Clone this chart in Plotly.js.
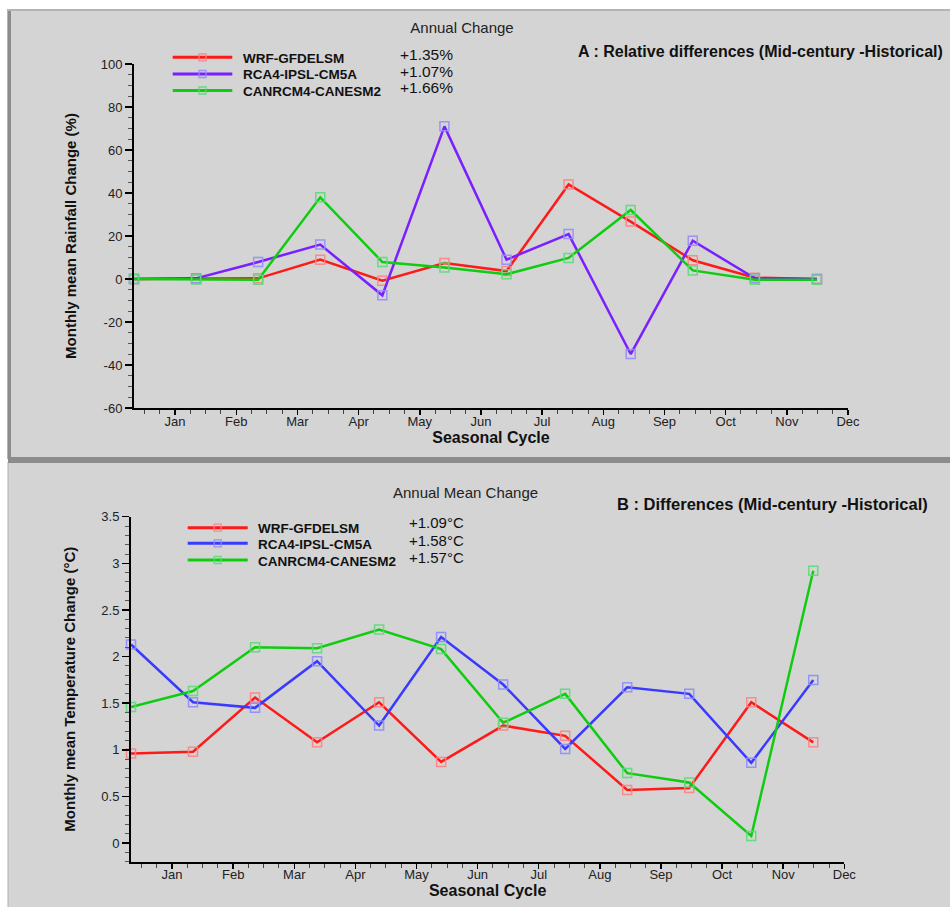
<!DOCTYPE html>
<html>
<head>
<meta charset="utf-8">
<script src="https://cdn.plot.ly/plotly-3.0.1.min.js"></script>
<style>html,body{margin:0;padding:0;background:#fff;}#chart{width:950px;height:907px;}</style>
</head>
<body>
<div id="chart"></div>
<script>
// ---------- DATA ----------
var months = ['Jan','Feb','Mar','Apr','May','Jun','Jul','Aug','Sep','Oct','Nov','Dec'];
var monthIndex = [0,1,2,3,4,5,6,7,8,9,10,11];
var modelNames = ['WRF-GFDELSM','RCA4-IPSL-CM5A','CANRCM4-CANESM2'];

// Panel A: relative rainfall change (%)
var rainWRF  = [0, 0, 0.3, 9.0, -0.8, 7.4, 3.7, 44.0, 26.7, 8.7, 0.6, 0];
var rainRCA4 = [0, 0.3, 7.9, 16.0, -7.6, 71.0, 9.0, 20.9, -34.9, 17.8, 0.3, 0];
var rainCAN  = [0, -0.2, -0.3, 38.0, 7.9, 5.4, 2.2, 9.8, 32.1, 4.0, -0.3, -0.3];
var rainAnnual = ['+1.35%','+1.07%','+1.66%'];
var rainTicks = [-60, -40, -20, 0, 20, 40, 60, 80, 100];

// Panel B: temperature change (°C)
var tempWRF  = [0.96, 0.98, 1.56, 1.08, 1.51, 0.87, 1.26, 1.15, 0.57, 0.59, 1.51, 1.08];
var tempRCA4 = [2.13, 1.51, 1.45, 1.95, 1.26, 2.21, 1.70, 1.01, 1.67, 1.60, 0.86, 1.75];
var tempCAN  = [1.46, 1.63, 2.10, 2.09, 2.29, 2.08, 1.29, 1.60, 0.75, 0.65, 0.075, 2.92];
var tempAnnual = ['+1.09°C','+1.58°C','+1.57°C'];
var tempTicks = [0, 0.5, 1, 1.5, 2, 2.5, 3, 3.5];

// ---------- STYLE ----------
var W = 950, H = 907;
function X(p){ return p / W; }
function Y(p){ return 1 - p / H; }
var FONT = 'Liberation Sans, Arial, sans-serif';
var rainLine = ['#ff1a1a', '#7a1fff', '#10cc10'];
var rainMark = ['rgba(255,130,130,0.9)', 'rgba(150,140,255,0.9)', 'rgba(90,220,120,0.9)'];
var tempLine = ['#ff1a1a', '#3a3aff', '#10cc10'];
var tempMark = ['rgba(255,130,130,0.9)', 'rgba(140,140,255,0.9)', 'rgba(90,220,120,0.9)'];

// month label positions on the index axis (labels are slightly tighter than data spacing)
var labelStep = 0.9853, firstLabel = 11.5 - 11 * labelStep;
var tickPos = months.map(function(m, i){ return firstLabel + i * labelStep; });

function mk(y, i, ax, lineC, markC, name){
  return {
    x: monthIndex, y: y, name: name, type: 'scatter', mode: 'lines+markers',
    xaxis: ax[0], yaxis: ax[1], cliponaxis: false, showlegend: false,
    line: {color: lineC[i], width: 2.5},
    marker: {symbol: 'square-open', size: 9, color: markC[i], line: {width: 1.5, color: markC[i]}}
  };
}
var traces = [
  mk(rainWRF, 0, ['x','y'], rainLine, rainMark, modelNames[0]),
  mk(rainRCA4, 1, ['x','y'], rainLine, rainMark, modelNames[1]),
  mk(rainCAN, 2, ['x','y'], rainLine, rainMark, modelNames[2]),
  mk(tempWRF, 0, ['x2','y2'], tempLine, tempMark, modelNames[0]),
  mk(tempRCA4, 1, ['x2','y2'], tempLine, tempMark, modelNames[1]),
  mk(tempCAN, 2, ['x2','y2'], tempLine, tempMark, modelNames[2])
];

function xAxis(domain, anchor){
  return {
    domain: domain, anchor: anchor, range: [0, 11.5],
    tickmode: 'array', tickvals: tickPos, ticktext: months,
    ticks: 'outside', ticklen: 5, tickwidth: 1.5, tickcolor: '#000',
    ticklabelstandoff: -5,
    minor: {tick0: firstLabel, dtick: labelStep / 4, ticks: 'outside', ticklen: 4, tickwidth: 1, tickcolor: '#444', showgrid: false},
    showline: true, linecolor: '#000', linewidth: 2, showgrid: false, zeroline: false,
    tickfont: {family: FONT, size: 13, color: '#222'},
    title: {text: 'Seasonal Cycle', standoff: 2, font: {family: FONT, size: 16, color: '#111', weight: 'bold'}}
  };
}
function yAxis(domain, anchor, range, ticks, minorD, title, standoff){
  return {
    domain: domain, anchor: anchor, range: range,
    tickmode: 'array', tickvals: ticks, ticktext: ticks.map(function(v){ return String(v); }),
    ticks: 'outside', ticklen: 7, tickwidth: 1.5, tickcolor: '#000',
    minor: {tickmode: 'linear', tick0: 0, dtick: minorD, ticks: 'outside', ticklen: 4, tickwidth: 1, tickcolor: '#555', showgrid: false},
    showline: true, linecolor: '#000', linewidth: 2, showgrid: false, zeroline: false,
    tickfont: {family: FONT, size: 13, color: '#222'},
    title: {text: title, standoff: standoff, font: {family: FONT, size: 15, color: '#111', weight: 'bold'}}
  };
}

var shapes = [
  // panel backgrounds
  {type:'rect', xref:'paper', yref:'paper', layer:'below', x0:X(8), x1:X(952), y0:Y(10), y1:Y(458), fillcolor:'#d4d4d4', line:{color:'#b4b4b4', width:2}},
  {type:'rect', xref:'paper', yref:'paper', layer:'below', x0:X(8), x1:X(952), y0:Y(462), y1:Y(909), fillcolor:'#d4d4d4', line:{color:'#b0b0b0', width:1}},
  {type:'rect', xref:'paper', yref:'paper', layer:'below', x0:X(8), x1:X(952), y0:Y(457), y1:Y(463), fillcolor:'#8c8c8c', line:{width:0}},
  {type:'rect', xref:'paper', yref:'paper', layer:'below', x0:X(8), x1:X(11), y0:Y(11), y1:Y(457), fillcolor:'#8c8c8c', line:{width:0}}
];
var annotations = [];

function legendBlock(rows, lineX0, lineX1, textX, valX, rowY, valY, lineC, markC, vals, valSize){
  for (var i = 0; i < 3; i++){
    shapes.push({type:'line', xref:'paper', yref:'paper', x0:X(lineX0), x1:X(lineX1), y0:Y(rowY[i]), y1:Y(rowY[i]), line:{color:lineC[i], width:3}});
    var cx = (lineX0 + lineX1) / 2;
    shapes.push({type:'rect', xref:'paper', yref:'paper', x0:X(cx-3.5), x1:X(cx+3.5), y0:Y(rowY[i]-3.5), y1:Y(rowY[i]+3.5), line:{color:markC[i], width:1.3}, fillcolor:'rgba(0,0,0,0)'});
    annotations.push({xref:'paper', yref:'paper', x:X(textX), y:Y(rowY[i]+1), xanchor:'left', yanchor:'middle', showarrow:false, text:rows[i], font:{family:FONT, size:13.5, color:'#111', weight:'bold'}});
    annotations.push({xref:'paper', yref:'paper', x:X(valX), y:Y(valY[i]), xanchor:'left', yanchor:'middle', showarrow:false, text:vals[i], font:{family:FONT, size:valSize, color:'#111'}});
  }
}
legendBlock(modelNames, 172.7, 232.3, 241, 398, [57.3, 74, 90.5], [54, 71, 88], rainLine, rainMark, rainAnnual, 15.5);
legendBlock(modelNames, 187.7, 247.7, 256, 407, [527.7, 543.3, 560], [522.5, 540, 557.5], tempLine, tempMark, tempAnnual, 15);

annotations.push({xref:'paper', yref:'paper', x:X(576), y:Y(51), xanchor:'left', yanchor:'middle', showarrow:false,
  text:'A : Relative differences (Mid-century -Historical)', font:{family:FONT, size:16, color:'#111', weight:'bold'}});
annotations.push({xref:'paper', yref:'paper', x:X(465), y:Y(493), xanchor:'center', yanchor:'middle', showarrow:false,
  text:'Annual Mean Change', font:{family:FONT, size:15, color:'#222'}});
annotations.push({xref:'paper', yref:'paper', x:X(615), y:Y(504), xanchor:'left', yanchor:'middle', showarrow:false,
  text:'B : Differences (Mid-century -Historical)', font:{family:FONT, size:16.5, color:'#111', weight:'bold'}});

var layout = {
  width: W, height: H, margin: {l:0, r:0, t:0, b:0},
  paper_bgcolor: '#ffffff', plot_bgcolor: 'rgba(0,0,0,0)',
  showlegend: false,
  title: {text: 'Annual Change', x: X(462), y: Y(28), xanchor: 'center', yanchor: 'middle', xref: 'paper', yref: 'paper',
          font: {family: FONT, size: 15, color: '#222'}},
  xaxis: xAxis([X(134), X(848)], 'y'),
  yaxis: yAxis([Y(408), Y(64)], 'x', [-60, 100], rainTicks, 5, 'Monthly mean Rainfall Change (%)', 20),
  xaxis2: xAxis([X(131), X(844.3)], 'y2'),
  yaxis2: yAxis([Y(861.7), Y(516.7)], 'x2', [-0.2, 3.5], tempTicks, 0.1, 'Monthly mean Temperature Change (°C)', 22),
  shapes: shapes, annotations: annotations
};

Plotly.newPlot('chart', traces, layout, {displayModeBar: false, staticPlot: true});
</script>
</body>
</html>
